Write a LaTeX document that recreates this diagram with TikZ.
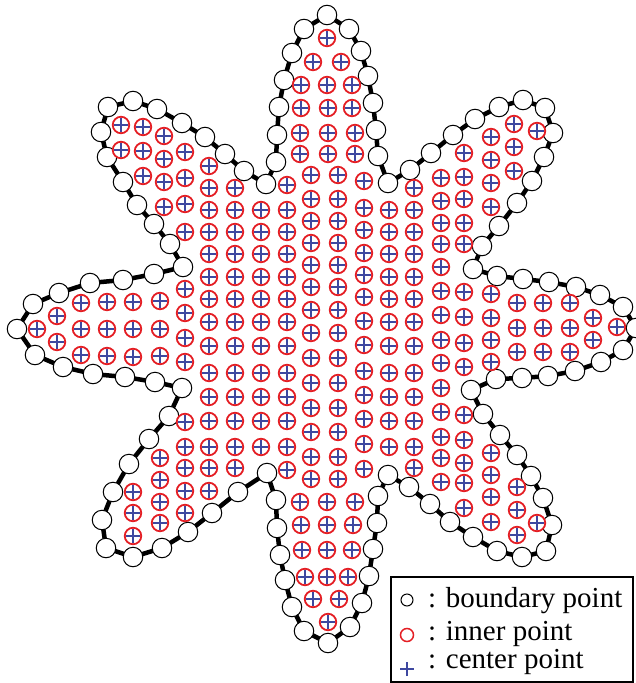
\documentclass[tikz,border=0pt]{standalone}
\usepackage{fontspec}
\setmainfont{Liberation Serif}
\definecolor{ptred}{RGB}{228,30,36}
\definecolor{ptblue}{RGB}{62,72,160}
\tikzset{
  bline/.style={line width=4.5pt, line join=round},
  bnd/.style={circle, draw=black, fill=white, line width=1pt, minimum size=19.5pt, inner sep=0pt},
  plussign/.style={path picture={
     \draw[ptblue, line width=1.5pt]
       ([xshift=-7pt]path picture bounding box.center) -- ([xshift=7pt]path picture bounding box.center)
       ([yshift=-7pt]path picture bounding box.center) -- ([yshift=7pt]path picture bounding box.center);}},
  inpt/.style={circle, draw=ptred, fill=white, line width=1.8pt, minimum size=16.5pt, inner sep=0pt, plussign},
  legtext/.style={anchor=base west, inner sep=0pt, font=\fontsize{29}{29}\selectfont},
}
\begin{document}
\begin{tikzpicture}[x=1pt,y=-1pt]
\useasboundingbox (0,0) rectangle (635,683);
% boundary points
\foreach \bx/\by [count=\i] in {327/15,349/29,361/51,368/76,373/103,376/130,378/156,388/183,
 410/170,431/153,453/135,475/119,499/107,523/100,545/108,553/133,544/157,532/181,
 517/203,499/226,482/246,473/269,497/276,523/279,549/282,576/287,600/295,623/307,
 636/328,623/350,601/362,575/371,548/376,522/378,496/379,471/390,483/414,500/435,
 517/455,531/476,543/498,552/525,546/551,522/557,497/551,473/537,450/522,430/504,
 409/487,388/475,378/496,377/523,373/549,369/576,362/603,350/627,328/643,304/631,
 292/607,285/580,280/555,277/528,276/500,267/473,238/492,212/513,188/532,162/548,
 133/557,106/548,102/520,113/492,129/464,149/439,169/416,182/388,155/382,125/377,
 93/374,63/367,35/355,17/329,33/304,59/293,90/283,123/280,154/274,183/267,
 170/244,154/224,137/205,123/182,107/157,101/132,108/107,133/101,157/109,182/123,
 205/137,225/154,244/171,266/184,276/162,277/135,279/107,284/80,292/53,304/29}
 {\coordinate (b\i) at (\bx,\by);}
\draw[bline] (b1) \foreach \i in {2,...,108} { -- (b\i) } -- cycle;
\foreach \i in {1,...,108} \node[bnd] (bn\i) at (b\i) {};
% inner points by column
\foreach \x/\yl in {37/{329}, 57/{316,342}, 81/{303,329,355}, 107/{302,329,356}, 121/{125,150},
 133/{302,329,357,492,513,536}, 143/{127,151,176}, 160/{301,329,356,458,480,502,523},
 164/{136,159,182,207}, 185/{152,178,204,232,289,313,338,362,422,447,468,491,513},
 209/{166,188,210,232,254,277,299,322,346,373,397,421,447,468,491},
 235/{188,210,232,254,277,299,322,346,373,397,421,447,468},
 261/{210,232,254,277,299,322,346,373,397,421,447},
 287/{185,210,232,254,277,299,322,346,373,397,421,447,470},
 311/{175,199,221,243,265,287,310,333,358,383,408,432,457,479},
 338/{175,199,221,243,265,287,310,333,358,383,408,432,457,479},
 364/{181,208,230,253,275,297,321,345,371,395,419,444,469},
 389/{210,232,254,277,299,322,346,373,397,421,447},
 414/{188,210,232,254,277,299,322,346,373,397,421,447,468},
 441/{178,201,223,244,267,291,315,340,363,388,412,437,458,482},
 464/{153,177,199,223,244,292,317,343,367,415,440,463,483,508},
 491/{137,160,183,207,294,318,340,362,453,475,497,522},
 514/{124,147,171}, 517/{303,328,352,487,510,535}, 537/{131,523},
 543/{303,328,352}, 570/{303,328,352}, 593/{318,340}, 617/{327}}
 {\foreach \y in \yl {\node[inpt] (p-\x-\y) at (\x,\y) {};}}
% inner points of top and bottom petals by row
\foreach \y/\xl in {38/{327}, 62/{313,341}, 85/{301,327,352}, 108/{301,328,352}, 133/{300,328,355},
 154/{300,328,355}, 502/{300,327,355}, 525/{301,327,353}, 550/{302,327,352}, 577/{305,327,348},
 599/{313,339}, 622/{328}}
 {\foreach \x in \xl {\node[inpt] (q-\x-\y) at (\x,\y) {};}}
% legend
\node[draw=black, line width=1.5pt, fill=white, minimum width=242pt, minimum height=105pt, inner sep=0pt]
  (legend) at (512,629.5) {};
\node[circle, draw=black, line width=1pt, minimum size=12pt, inner sep=0pt] (lb) at (407,600) {};
\node[circle, draw=ptred, line width=1.5pt, minimum size=13pt, inner sep=0pt] (lr) at (407,635) {};
\node[minimum size=14pt, inner sep=0pt, plussign] (lc) at (407,669) {};
\node[legtext] (tb) at (428,607) {: boundary point};
\node[legtext] (tr) at (428,640) {: inner point};
\node[legtext] (tc) at (428,668) {: center point};
\end{tikzpicture}
\end{document}
